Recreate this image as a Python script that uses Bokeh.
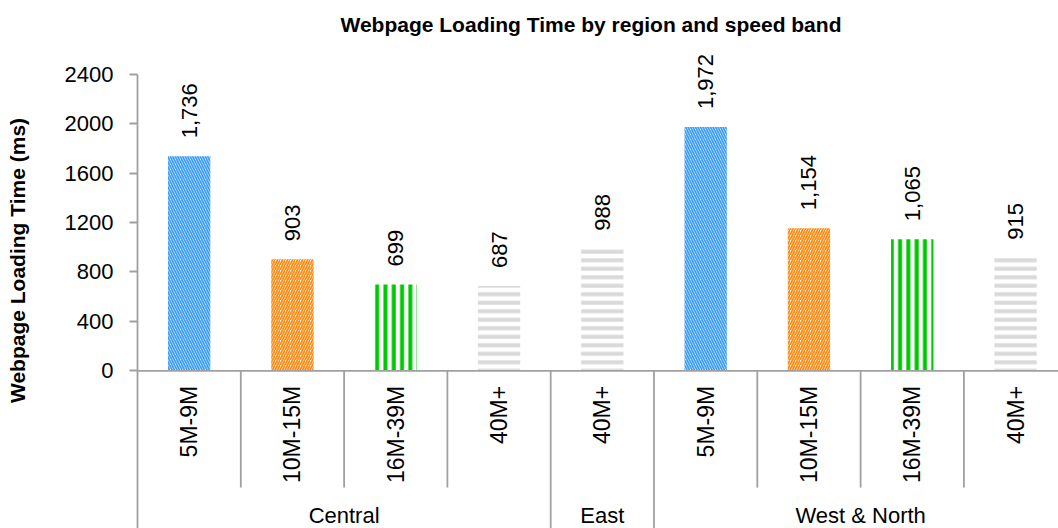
import math
from bokeh.plotting import figure
from bokeh.layouts import row
from bokeh.models import ColumnDataSource, Range1d, FixedTicker, Span
from bokeh.core.properties import value
from bokeh.embed import file_html
from bokeh.resources import INLINE

# ---- data ----
regions = ["Central", "Central", "Central", "Central", "East",
           "West & North", "West & North", "West & North", "West & North"]
bands = ["5M-9M", "10M-15M", "16M-39M", "40M+", "40M+",
         "5M-9M", "10M-15M", "16M-39M", "40M+"]
load_ms = [1736, 903, 699, 687, 988, 1972, 1154, 1065, 915]
y_ticks = [0, 400, 800, 1200, 1600, 2000, 2400]
y_title = "Webpage Loading Time (ms)"
chart_title = "Webpage Loading Time by region and speed band"

# ---- styles ----
band_color = {"5M-9M": "#3D9EF5", "10M-15M": "#FF8A12", "16M-39M": "#00C800", "40M+": "#D9D9D9"}
band_hatch = {"5M-9M": "\\", "10M-15M": "/", "16M-39M": "|", "40M+": "-"}
band_hscale = {"5M-9M": 5.0, "10M-15M": 5.0, "16M-39M": 8.3, "40M+": 8.5}
band_hweight = {"5M-9M": 1.8, "10M-15M": 1.8, "16M-39M": 4.0, "40M+": 4.0}

FONT = "Liberation Sans"
AXIS_COLOR = "#A0A0A0"

# screen geometry helpers
W, H = 1058, 528
LABEL_W = 40
FRAME_LEFT, FRAME_TOP, ZERO_Y = 137, 44, 370
PX = (ZERO_Y - 72.7) / 2400.0
SLOT = 103.3
FRAME_W = W - FRAME_LEFT
Y_TOP = (ZERO_Y - FRAME_TOP) / PX
Y_BOT = -(H - ZERO_Y) / PX

n = len(load_ms)
xc = [i + 0.5 for i in range(n)]
src = ColumnDataSource(dict(
    x=xc, v=load_ms, band=bands,
    vlabel=[f"{v:,}" for v in load_ms],
    color=[band_color[b] for b in bands],
    hatch=[band_hatch[b] for b in bands],
    hs=[band_hscale[b] for b in bands],
    hw=[band_hweight[b] for b in bands],
))

# ---- narrow panel holding the y-axis title ----
lab = figure(width=LABEL_W, height=H, output_backend="svg", toolbar_location=None,
             title=None, x_range=Range1d(0, LABEL_W), y_range=Range1d(H, 0),
             min_border=0, x_axis_location=None, y_axis_location=None)
lab.outline_line_color = None
lab.grid.visible = False
lab.text(x=[17], y=[235], text=[y_title], angle=math.pi / 2,
         text_align="center", text_baseline="middle",
         text_font=value(FONT), text_font_size="21px", text_font_style="bold",
         text_color="black")

# ---- main chart ----
p = figure(width=W - LABEL_W, height=H, output_backend="svg", toolbar_location=None,
           x_range=Range1d(0, FRAME_W / SLOT), y_range=Range1d(Y_BOT, Y_TOP),
           min_border_left=FRAME_LEFT - LABEL_W, min_border_right=0, min_border_top=FRAME_TOP,
           min_border_bottom=0, x_axis_location=None)
p.outline_line_color = None
p.grid.visible = False
p.background_fill_color = "white"
p.border_fill_color = "white"

p.title.text = chart_title
p.title.align = "left"
p.title.offset = 340 - FRAME_LEFT
p.title.text_font = FONT
p.title.text_font_size = "21px"
p.title.text_font_style = "bold"
p.title.text_color = "black"
p.title.standoff = 20

yax = p.yaxis[0]
yax.ticker = FixedTicker(ticks=y_ticks)
yax.bounds = (Y_BOT - 200, 2400)
yax.major_tick_out = 8
yax.major_tick_in = 0
yax.minor_tick_line_color = None
yax.major_label_standoff = 16
yax.major_label_text_font = FONT
yax.major_label_text_font_size = "22px"
yax.major_label_text_color = "black"
yax.axis_line_color = AXIS_COLOR
yax.axis_line_width = 1.8
yax.major_tick_line_color = AXIS_COLOR
yax.major_tick_line_width = 1.8

# bars
p.vbar(x="x", top="v", bottom=0, width=0.41, source=src,
       fill_color="white", line_color=None,
       hatch_pattern="hatch", hatch_color="color",
       hatch_scale="hs", hatch_weight="hw")

# value labels
p.text(x="x", y="v", text="vlabel", source=src, angle=math.pi / 2,
       text_align="left", text_baseline="middle", y_offset=-18,
       text_font=value(FONT), text_font_size="22px", text_color="black")

# category axis line at 0
p.add_layout(Span(location=0, dimension="width", line_color=AXIS_COLOR, line_width=1.8))

# separators
inner_x, group_x = [], []
for i in range(1, n):
    (group_x if regions[i] != regions[i - 1] else inner_x).append(i)
p.segment(x0=inner_x, x1=inner_x, y0=[0] * len(inner_x), y1=[-(487 - ZERO_Y) / PX] * len(inner_x),
          line_color=AXIS_COLOR, line_width=1.8)
p.segment(x0=group_x, x1=group_x, y0=[0] * len(group_x), y1=[Y_BOT - 100] * len(group_x),
          line_color=AXIS_COLOR, line_width=1.8)

# band labels
p.text(x="x", y=0, text="band", source=src, angle=math.pi / 2,
       text_align="right", text_baseline="middle", y_offset=15,
       text_font=value(FONT), text_font_size="23px", text_color="black")

# region labels
groups = []
for i, r in enumerate(regions):
    if not groups or groups[-1][0] != r:
        groups.append([r, i, i + 1])
    else:
        groups[-1][2] = i + 1
p.text(x=[(g[1] + g[2]) / 2 for g in groups], y=[-(515 - ZERO_Y) / PX] * len(groups),
       text=[g[0] for g in groups], text_align="center", text_baseline="middle",
       text_font=value(FONT), text_font_size="22px", text_color="black")

layout = row(lab, p, spacing=0)
open("out.html", "w").write(file_html(layout, INLINE))
